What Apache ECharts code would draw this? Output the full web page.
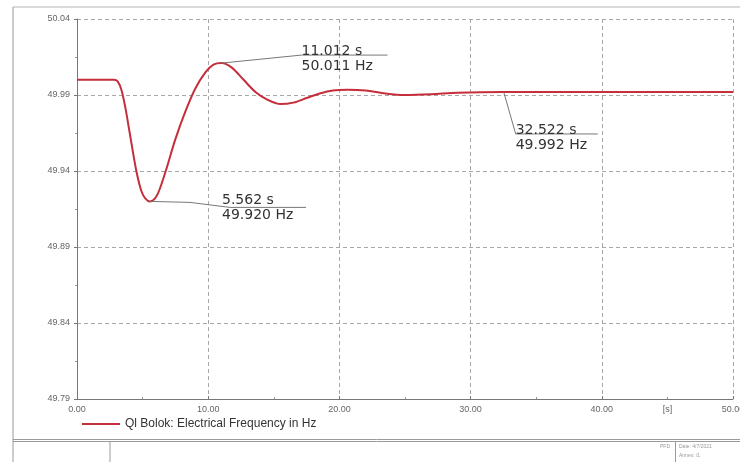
<!DOCTYPE html>
<html>
<head>
<meta charset="utf-8">
<script src="https://cdn.jsdelivr.net/npm/echarts@6/dist/echarts.min.js"></script>
<style>
  html, body { margin: 0; padding: 0; background: #ffffff; }
  #chart { width: 740px; height: 462px; }
</style>
</head>
<body>
<div id="chart"></div>
<script>
// Simulation time [s]
const times = [0, 1, 2, 2.8, 3.1, 3.4, 3.7, 4.0, 4.5, 4.9, 5.2, 5.562, 5.95, 6.3, 6.8, 7.5, 8.3, 9.0, 9.8, 10.4,
  11.012, 11.8, 12.7, 13.6, 14.5, 15.5, 16.5, 17.5, 18.5, 19.5, 20.6, 22, 23.5, 25, 27, 29,
  32.522, 36, 40, 45, 50];
// Electrical frequency [Hz]
const freqs = [50.000, 50.000, 50.000, 50.000, 49.999, 49.993, 49.981, 49.966, 49.941, 49.927, 49.922, 49.920,
  49.922, 49.928, 49.941, 49.961, 49.980, 49.994, 50.005, 50.010,
  50.011, 50.008, 50.000, 49.992, 49.987, 49.984, 49.985, 49.988, 49.991, 49.993, 49.9935,
  49.993, 49.991, 49.990, 49.9905, 49.9915,
  49.992, 49.992, 49.992, 49.992, 49.992];

// Marked points (time, frequency)
const markTimes = [11.012, 5.562, 32.522];
const markFreqs = [50.011, 49.920, 49.992];

const seriesName = 'Ql Bolok: Electrical Frequency in Hz';
const yMin = 49.79, yMax = 50.04, yStep = 0.05;
const xMin = 0, xMax = 50, xStep = 10;

const lineColor = '#c42f3b';
const textColor = '#333333';
const frameColor = '#9a9a9a';

const chart = echarts.init(document.getElementById('chart'), null, { renderer: 'canvas' });

const option = {
  backgroundColor: '#ffffff',
  animation: false,
  grid: { left: 77, right: 7, top: 19, bottom: 63, containLabel: false, outerBoundsMode: 'none' },
  legend: {
    left: 77, top: 413,
    icon: 'rect', itemWidth: 38, itemHeight: 2, itemGap: 10,
    textStyle: { fontFamily: 'Liberation Sans', fontSize: 12, color: textColor },
    data: [seriesName]
  },
  xAxis: {
    type: 'value', min: xMin, max: xMax, interval: xStep,
    axisLine: { show: true, lineStyle: { color: '#777', width: 1 } },
    axisTick: { show: true, inside: true, length: 3, lineStyle: { color: '#777' } },
    minorTick: { show: true, splitNumber: 2, length: 2, lineStyle: { color: '#999' } },
    axisLabel: {
      margin: 6, fontFamily: 'Liberation Sans', fontSize: 9, color: '#666',
      formatter: v => v.toFixed(2)
    },
    splitLine: { show: true, lineStyle: { color: '#a8a8a8', type: [4, 3], width: 1 } }
  },
  yAxis: {
    type: 'value', min: yMin, max: yMax, interval: yStep,
    axisLine: { show: true, lineStyle: { color: '#777', width: 1 } },
    axisTick: { show: true, inside: false, length: 3, lineStyle: { color: '#777' } },
    minorTick: { show: true, splitNumber: 2, length: 2, lineStyle: { color: '#999' } },
    axisLabel: {
      margin: 7, fontFamily: 'Liberation Sans', fontSize: 9, color: '#666',
      formatter: v => v.toFixed(2)
    },
    splitLine: { show: true, lineStyle: { color: '#a8a8a8', type: [4, 3], width: 1 } }
  },
  series: [{
    name: seriesName,
    type: 'line',
    data: times.map((t, i) => [t, freqs[i]]),
    smooth: 0.3,
    showSymbol: false,
    lineStyle: { color: lineColor, width: 2 },
    itemStyle: { color: lineColor }
  }]
};

chart.setOption(option);

// Page frame and title block
const frame = [
  { type: 'line', shape: { x1: 13, y1: 7, x2: 740, y2: 7 }, style: { stroke: '#b5b5b5', lineWidth: 1 } },
  { type: 'line', shape: { x1: 13, y1: 7, x2: 13, y2: 462 }, style: { stroke: frameColor, lineWidth: 1 } },
  { type: 'line', shape: { x1: 13, y1: 439.5, x2: 740, y2: 439.5 }, style: { stroke: frameColor, lineWidth: 1 } },
  { type: 'line', shape: { x1: 13, y1: 441.5, x2: 740, y2: 441.5 }, style: { stroke: frameColor, lineWidth: 1 } },
  { type: 'line', shape: { x1: 110, y1: 441.5, x2: 110, y2: 462 }, style: { stroke: frameColor, lineWidth: 1 } },
  { type: 'line', shape: { x1: 675.5, y1: 441.5, x2: 675.5, y2: 462 }, style: { stroke: frameColor, lineWidth: 1 } },
  { type: 'text', x: 670, y: 447, style: { text: 'PFD', align: 'right', verticalAlign: 'middle', fontSize: 5, fontFamily: 'Liberation Sans', fill: '#999' } },
  { type: 'text', x: 679, y: 447, style: { text: 'Date: 4/7/2021', verticalAlign: 'middle', fontSize: 5, fontFamily: 'Liberation Sans', fill: '#999' } },
  { type: 'text', x: 679, y: 456, style: { text: 'Annex: /1', verticalAlign: 'middle', fontSize: 5, fontFamily: 'Liberation Sans', fill: '#999' } }
];

// Unit label on the time axis
const unitPos = chart.convertToPixel({ gridIndex: 0 }, [45, yMin]);
frame.push({ type: 'text', x: unitPos[0], y: unitPos[1] + 11, style: {
  text: '[s]', align: 'center', verticalAlign: 'middle', fontSize: 9, fontFamily: 'Liberation Sans', fill: '#666' } });

// Leader lines and value boxes for the marked points
const annoFont = { fontFamily: 'DejaVu Sans', fontSize: 14, fill: textColor };
const leaderStyle = { stroke: '#777', lineWidth: 1, fill: null };
const layouts = [
  // leader points relative to the anchor, text left offset, first and second line offsets
  { pts: [[0, 0], [80, -8], [166, -8]], tx: 80, ty1: -12, ty2: 3 },
  { pts: [[0, 0], [40, 1], [80, 6], [156, 6]], tx: 72, ty1: -1, ty2: 14 },
  { pts: [[0, 0], [12, 42], [94, 42]], tx: 12, ty1: 38, ty2: 53 }
];

markTimes.forEach((t, i) => {
  const p = chart.convertToPixel({ seriesIndex: 0 }, [t, markFreqs[i]]);
  const L = layouts[i];
  frame.push({ type: 'polyline', shape: { points: L.pts.map(q => [p[0] + q[0], p[1] + q[1]]) }, style: leaderStyle, z: 5 });
  frame.push({ type: 'text', x: p[0] + L.tx, y: p[1] + L.ty1, z: 6,
    style: Object.assign({ text: t.toFixed(3) + ' s', verticalAlign: 'middle' }, annoFont) });
  frame.push({ type: 'text', x: p[0] + L.tx, y: p[1] + L.ty2, z: 6,
    style: Object.assign({ text: markFreqs[i].toFixed(3) + ' Hz', verticalAlign: 'middle' }, annoFont) });
});

chart.setOption({ graphic: frame });
</script>
</body>
</html>
